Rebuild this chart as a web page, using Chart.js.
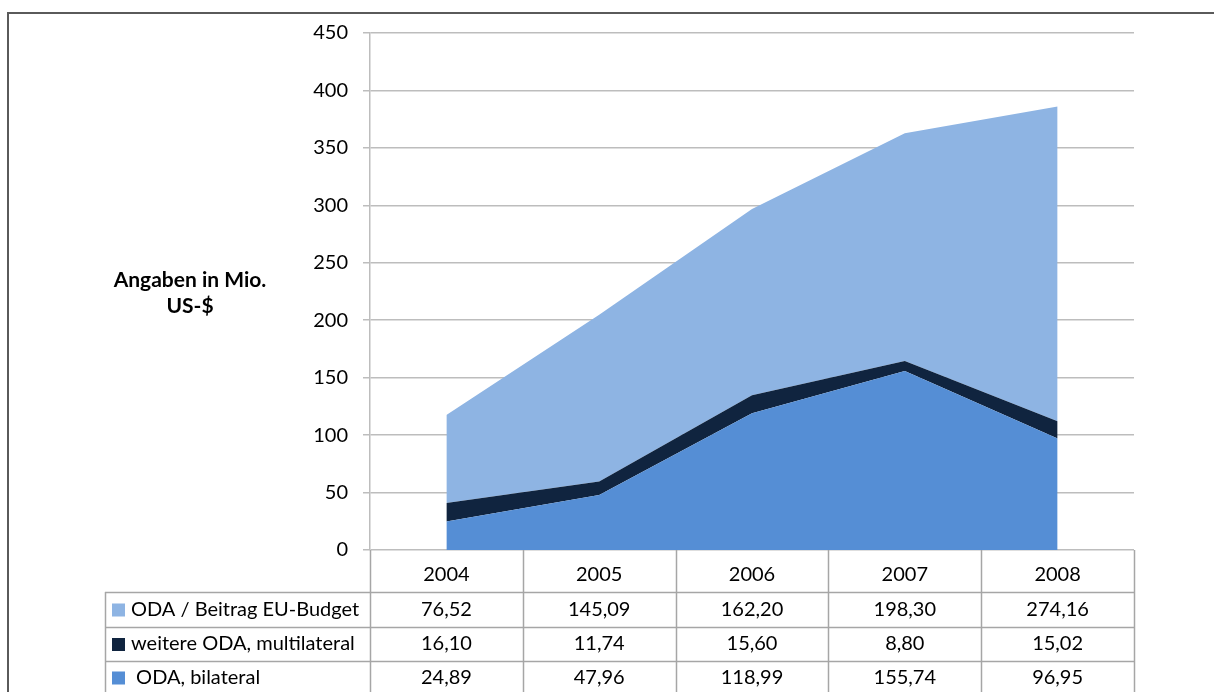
<!DOCTYPE html>
<html>
<head>
<meta charset="utf-8">
<script src="https://cdn.jsdelivr.net/npm/chart.js@4/dist/chart.umd.min.js"></script>
<style>
  body { margin: 0; background: #fff; }
</style>
</head>
<body>
<canvas id="odaChart" width="1214" height="692"></canvas>
<script>
// Werte aus der Tabelle
const years = ['2004', '2005', '2006', '2007', '2008'];
const euBudget = [76.52, 145.09, 162.20, 198.30, 274.16];
const multilateral = [16.10, 11.74, 15.60, 8.80, 15.02];
const bilateral = [24.89, 47.96, 118.99, 155.74, 96.95];
const yTicks = [0, 50, 100, 150, 200, 250, 300, 350, 400, 450];

const rowLabels = ['ODA / Beitrag EU-Budget', 'weitere ODA, multilateral', ' ODA, bilateral'];
const rowColors = ['#8EB4E3', '#10243F', '#558ED5'];
const rowValues = [euBudget, multilateral, bilateral];

const FONT = 'Lato, "Open Sans", sans-serif';

function fmt(v) {
    return v.toFixed(2).replace('.', ',');
}

// Rahmen, Achsentitel und Datentabelle
const tablePlugin = {
    id: 'tablePlugin',
    afterDraw(chart) {
        const ctx = chart.ctx;
        const xs = chart.scales.x;
        const area = chart.chartArea;
        const n = years.length;
        const step = (area.right - area.left) / n;
        const rowTops = [area.bottom, 592, 627, 661, 700];
        const legendLeft = 105;

        ctx.save();
        // Rahmen
        ctx.strokeStyle = '#5a5a5a';
        ctx.lineWidth = 2;
        ctx.beginPath();
        ctx.moveTo(8, 692);
        ctx.lineTo(8, 13);
        ctx.lineTo(1214, 13);
        ctx.stroke();

        // Achsentitel
        ctx.fillStyle = '#000';
        ctx.font = 'bold 21px ' + FONT;
        ctx.textAlign = 'center';
        ctx.textBaseline = 'middle';
        ctx.fillText('Angaben in Mio.', 190, 280);
        ctx.fillText('US-$', 190, 306);

        // Tabellenlinien
        ctx.strokeStyle = '#a6a6a6';
        ctx.lineWidth = 1.5;
        ctx.beginPath();
        for (let i = 0; i <= n; i++) {
            const x = Math.round(area.left + i * step) + 0.5;
            ctx.moveTo(x, area.bottom);
            ctx.lineTo(x, 692);
        }
        for (let r = 1; r <= 3; r++) {
            ctx.moveTo(legendLeft, rowTops[r] + 0.5);
            ctx.lineTo(area.right, rowTops[r] + 0.5);
        }
        ctx.moveTo(legendLeft + 0.5, rowTops[1]);
        ctx.lineTo(legendLeft + 0.5, 692);
        ctx.stroke();

        // Zeilen
        ctx.font = '20px ' + FONT;
        for (let r = 0; r < 3; r++) {
            const cy = (rowTops[r + 1] + Math.min(rowTops[r + 2], 694)) / 2;
            ctx.fillStyle = rowColors[r];
            ctx.fillRect(112, cy - 6, 13, 13);
            ctx.fillStyle = '#000';
            ctx.textAlign = 'left';
            ctx.fillText(rowLabels[r], 131, cy);
            ctx.textAlign = 'center';
            rowValues[r].forEach((v, i) => {
                ctx.fillText(fmt(v), xs.getPixelForValue(i), cy);
            });
        }
        ctx.restore();
    }
};

const data = {
    labels: years,
    datasets: [
        {
            label: 'ODA, bilateral',
            data: bilateral,
            backgroundColor: '#558ED5',
            borderWidth: 0,
            pointRadius: 0,
            fill: 'origin'
        },
        {
            label: 'weitere ODA, multilateral',
            data: multilateral,
            backgroundColor: '#10243F',
            borderWidth: 0,
            pointRadius: 0,
            fill: '-1'
        },
        {
            label: 'ODA / Beitrag EU-Budget',
            data: euBudget,
            backgroundColor: '#8EB4E3',
            borderWidth: 0,
            pointRadius: 0,
            fill: '-1'
        }
    ]
};

const config = {
    type: 'line',
    data: data,
    options: {
        responsive: false,
        animation: false,
        layout: {
            padding: { left: 0, right: 80, top: 33, bottom: 0 }
        },
        plugins: {
            legend: { display: false },
            tooltip: { enabled: false }
        },
        scales: {
            x: {
                offset: true,
                grid: { display: false },
                border: { display: false },
                ticks: {
                    color: '#000',
                    font: { family: FONT, size: 20 },
                    padding: 5
                },
                afterFit(scale) { scale.height = 142; }
            },
            y: {
                stacked: true,
                min: 0,
                max: 450,
                afterBuildTicks(scale) {
                    scale.ticks = yTicks.map(v => ({ value: v }));
                },
                grid: {
                    color: '#bdbdbd',
                    lineWidth: 1.5,
                    tickLength: 7
                },
                border: { color: '#bdbdbd', width: 1.5 },
                ticks: {
                    color: '#000',
                    font: { family: FONT, size: 20 },
                    padding: 15
                },
                afterFit(scale) { scale.width = 370; }
            }
        }
    },
    plugins: [tablePlugin]
};

const chart = new Chart(document.getElementById('odaChart'), config);
</script>
</body>
</html>
